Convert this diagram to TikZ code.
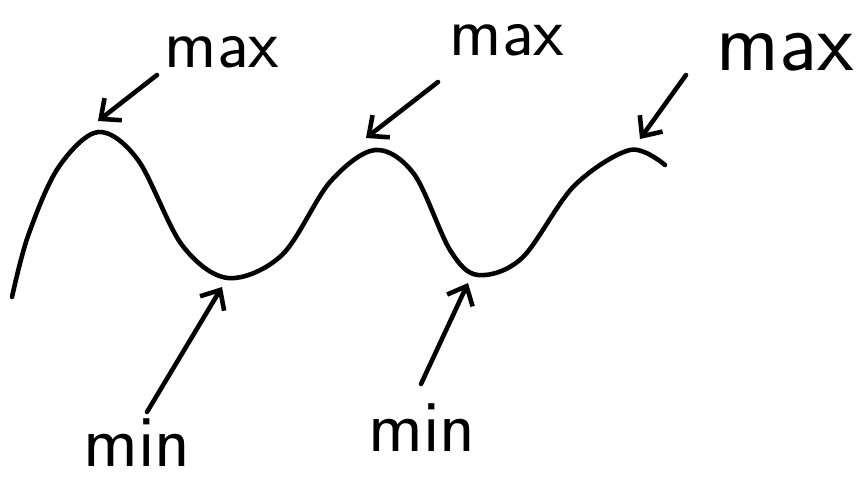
\documentclass[tikz,border=0pt]{standalone}
\usetikzlibrary{arrows.meta}
\begin{document}
\begin{tikzpicture}[x=0.02cm, y=-0.02cm, line width=2.6pt, line cap=round, line join=round,
    >={Straight Barb[length=9pt, width=16pt, line width=2.6pt]},
    every node/.style={font=\sffamily\fontsize{40}{40}\selectfont, inner sep=0pt}]
    \useasboundingbox (0,0) rectangle (866,481);
    % wave
    \draw plot[smooth, tension=0.55] coordinates {(12,297) (28,236) (58,168) (98,132) (138,160) (182,245) (228,278) (282,255) (330,182) (375,150) (414,174) (450,250) (478,275) (522,258) (574,186) (630,150) (665,165)};
    % extremes
    \coordinate (max1) at (98,121);
    \coordinate (max2) at (366,138);
    \coordinate (max3) at (640,139);
    \coordinate (min1) at (222,287);
    \coordinate (min2) at (468,283);
    % labels
    \node (lmax1) at (222,52) {max};
    \node (lmax2) at (507,40) {max};
    \node[scale=1.2] (lmax3) at (785,52) {max};
    \node[scale=1.05] (lmin1) at (137,443) {min};
    \node[scale=1.05] (lmin2) at (422,428) {min};
    % arrows
    \coordinate (t1) at (157,75);
    \coordinate (t2) at (438,82);
    \coordinate (t3) at (686,75);
    \coordinate (t4) at (147,412);
    \coordinate (t5) at (421,384);
    \draw[->] (t1) -- (max1);
    \draw[->] (t2) -- (max2);
    \draw[->] (t3) -- (max3);
    \draw[->] (t4) -- (min1);
    \draw[->] (t5) -- (min2);
\end{tikzpicture}
\end{document}
